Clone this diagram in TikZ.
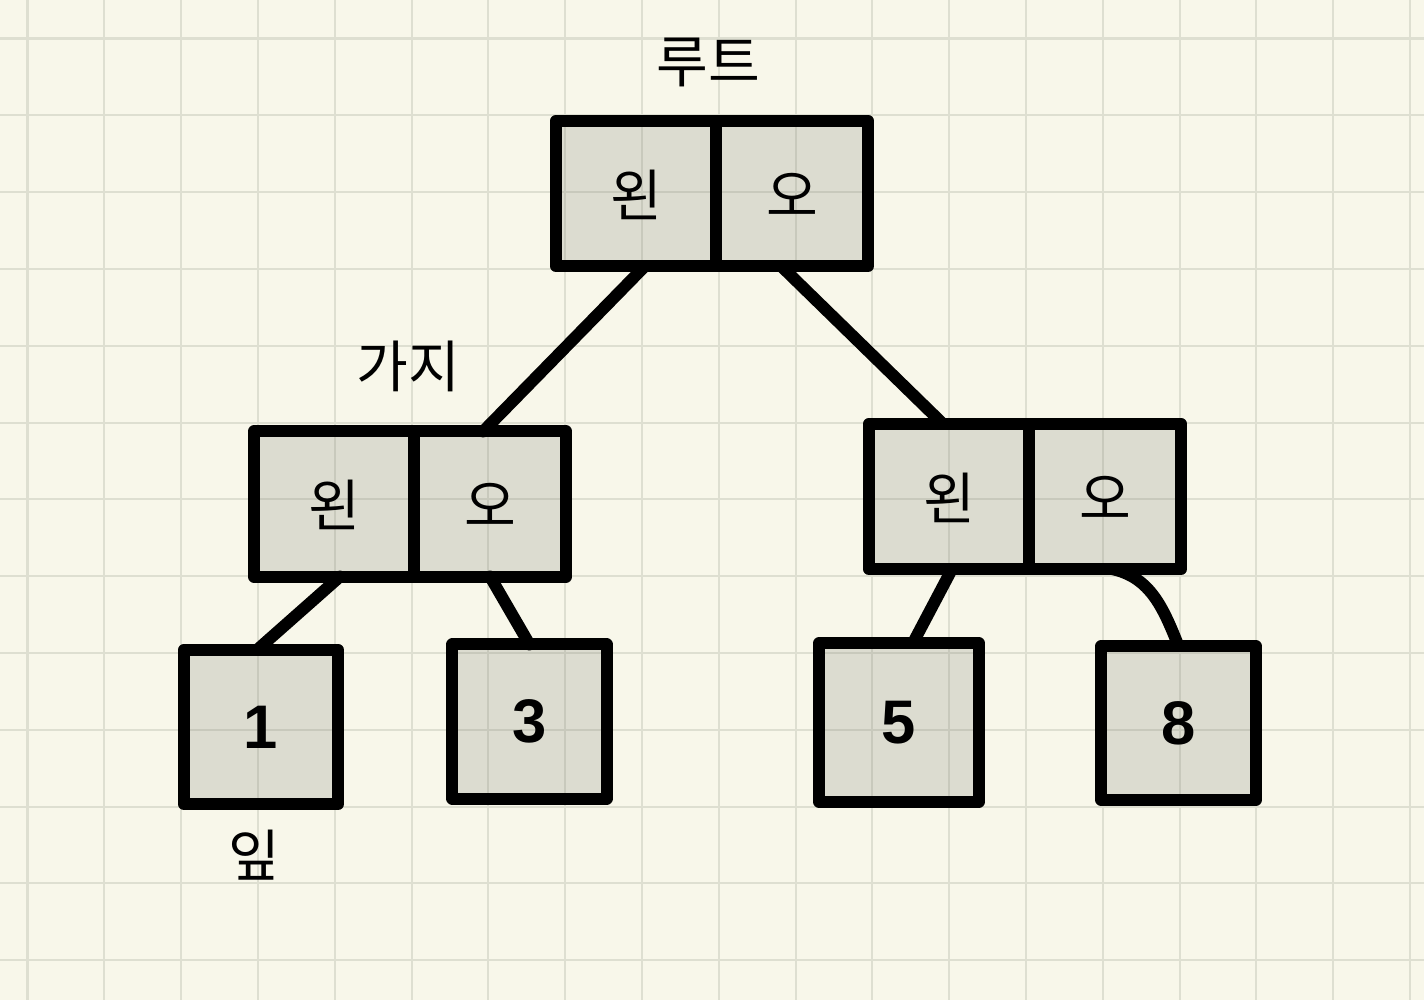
\documentclass[tikz,border=0pt]{standalone}
\usepackage{fontspec}
\setmainfont{Liberation Sans}
\newfontfamily\kr{Noto Sans CJK KR}
\usepackage{tikz}
\usetikzlibrary{calc}
\usetikzlibrary{positioning}
\definecolor{paper}{RGB}{248,247,234}
\definecolor{gridc}{RGB}{222,223,209}
\definecolor{cellc}{RGB}{128,131,122}

\begin{document}
\begin{tikzpicture}[x=0.01cm,y=-0.01cm,
		cell/.style={draw,line width=3.4pt,line join=round,fill=cellc,fill opacity=0.233,text opacity=1,
			outer sep=0pt,inner sep=0pt,minimum height=1.45cm,text height=12.8pt,text depth=0pt,
			font=\kr\fontsize{16}{16}\selectfont},
		lcell/.style={cell,minimum width=1.6cm},
		rcell/.style={cell,minimum width=1.52cm},
		leaf/.style={cell,minimum size=1.54cm,text height=,text depth=,font=\bfseries\fontsize{17.5}{17.5}\selectfont},
		link/.style={line width=3.4pt,line cap=round},
		lbl/.style={font=\kr\fontsize{16}{16}\selectfont}]
		\fill [paper] (0,0) rectangle (1424,1000);
		\useasboundingbox (0,0) rectangle (1424,1000);
		% grid
		\foreach \i in {0,...,18}
			\draw [gridc,line width=0.57pt] (27.5+76.8*\i,0) -- (27.5+76.8*\i,1000);
		\foreach \j in {0,...,12}
			\draw [gridc,line width=0.57pt] (0,38.5+76.8*\j) -- (1424,38.5+76.8*\j);
		% root
		\node [lcell] (rootl) at (636,193.5) {왼};
		\node [rcell,right=0pt of rootl] (rootr) {오};
		% branches
		\node [lcell] (bll) at (334,504) {왼};
		\node [rcell,right=0pt of bll] (blr) {오};
		\node [lcell] (brl) at (949,496.5) {왼};
		\node [rcell,right=0pt of brl] (brr) {오};
		% leaves
		\node [leaf] (one) at (261,727) {1};
		\node [leaf] (three) at (529.5,721.5) {3};
		\node [leaf,minimum size=1.59cm] (five) at (899,722.5) {5};
		\node [leaf] (eight) at (1178.5,723) {8};
		% links
		\draw [link] ($(rootl.south)+(9,0)$) -- ($(blr.north)+(-7,0)$);
		\draw [link] ($(rootr.south)+(-11,0)$) -- ($(brl.north)+(-6,0)$);
		\draw [link] ($(bll.south)+(6,0)$) -- ($(one.north)+(-4,0)$);
		\draw [link] (blr.south) -- (three.north);
		\draw [link] ($(brl.south)+(3,0)$) -- ($(five.north)+(14,0)$);
		\draw [link] ($(brr.south)+(7,0)$) to [out=-12,in=112] (eight.north);
		% labels
		\node [lbl] (rootlbl) at (708,62) {루트};
		\node [lbl] (branchlbl) at (408,366) {가지};
		\node [lbl] (leaflbl) at (254,855) {잎};
	\end{tikzpicture}
\end{document}
